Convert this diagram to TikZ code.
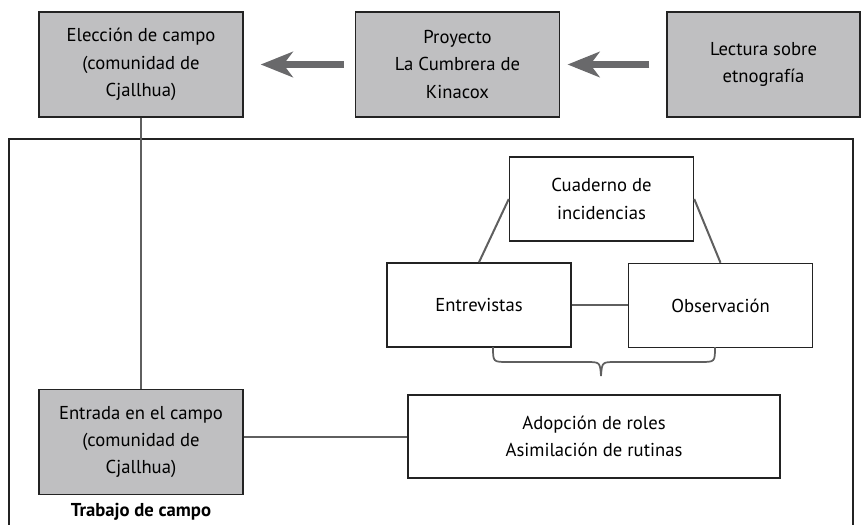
\documentclass[tikz,border=0pt]{standalone}
\usepackage{fontspec}
\setmainfont{PT Sans}
\usetikzlibrary{arrows.meta}

\tikzset{
  graybox/.style={draw={rgb,255:red,35;green,35;blue,35}, line width=1.1pt, fill={rgb,255:red,191;green,191;blue,193}, align=center, inner sep=0pt, minimum width=153pt, minimum height=78.75pt},
  whitebox/.style={draw={rgb,255:red,35;green,35;blue,35}, line width=1.1pt, fill=white, align=center, inner sep=0pt, minimum width=138pt, minimum height=63pt},
  link/.style={draw={rgb,255:red,95;green,95;blue,95}, line width=1.5pt},
  bigarrow/.style={draw={rgb,255:red,105;green,105;blue,107}, line width=4.8pt, -{Stealth[length=24pt,width=19pt,inset=7pt]}}
}

\begin{document}
\begin{tikzpicture}[x=0.75pt,y=0.75pt,yscale=-1,xscale=1,font=\fontsize{14}{20.5}\selectfont]
\useasboundingbox (0,0) rectangle (861,525);

%Shape: Frame
\draw [draw={rgb,255:red,35;green,35;blue,35}, line width=1.1pt] (9,526) -- (9,139) -- (853,139) -- (853,526) ;

% Top row
\node [graybox] (elec) at (141,64.5) {Elección de campo\\(comunidad de\\Cjallhua)};
\node [graybox] (proy) at (457.5,64.5) {Proyecto\\La Cumbrera de\\Kinacox};
\node [graybox, minimum width=144.75pt] (lect) at (763.5,64.5) {Lectura sobre\\etnografía};

% Field work
\node [graybox] (entr) at (141,442) {Entrada en el campo\\(comunidad de\\Cjallhua)};
\node [font=\fontsize{14}{20.5}\selectfont\bfseries, anchor=north] (trab) at (141,499) {Trabajo de campo};
\node [whitebox, minimum width=279pt, minimum height=62.25pt] (adop) at (594,436.5) {Adopción de roles\\Asimilación de rutinas};
\node [whitebox] (cuad) at (601.5,199) {Cuaderno de\\incidencias};
\node [whitebox] (entv) at (479,305) {Entrevistas};
\node [whitebox] (obs) at (720.5,305.5) {Observación};

%Arrows
\draw [bigarrow, shorten <=12.75pt, shorten >=5.5pt] (lect.west) -- (proy.east) ;
\draw [bigarrow, shorten <=8.25pt, shorten >=12.75pt] (proy.west) -- (elec.east) ;

%Straight Lines
\draw [link] (elec.south) -- (entr.north) ;
\draw [link] (adop.west) -- (adop.west -| entr.east) ;
\draw [link] (cuad.west) -- (entv.north) ;
\draw [link] (cuad.east) -- (obs.north) ;
\draw [link] (entv.east) -- (obs.west |- entv.east) ;

%Brace
\coordinate (bl) at (493,347);
\coordinate (br) at (715,347);
\draw [link, line width=1.3pt] (bl) .. controls (493,362) .. (508,362) -- (586,362) .. controls (600,362) .. (601,376) .. controls (602,362) .. (616,362) -- (700,362) .. controls (715,362) .. (br) ;

\end{tikzpicture}
\end{document}
